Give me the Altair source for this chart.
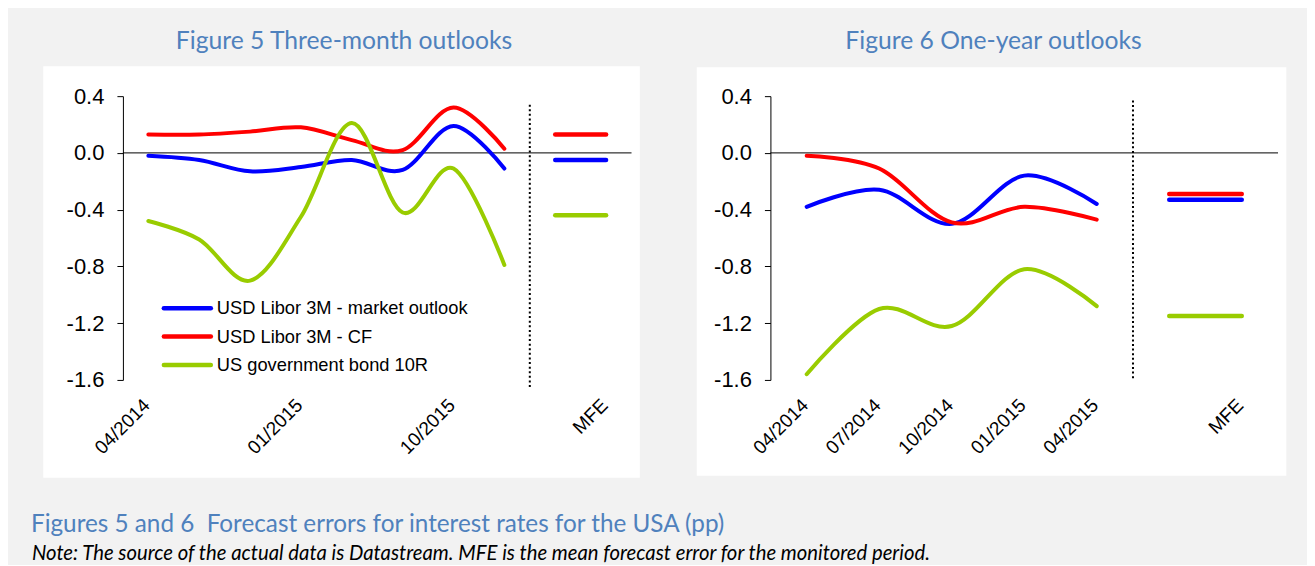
import altair as alt
import pandas as pd

# ---------------- data ----------------
series = ["USD Libor 3M - market outlook", "USD Libor 3M - CF", "US government bond 10R"]
series_colors = ["#0000ff", "#ff0000", "#99cc00"]

# Figure 5: three-month outlooks
left_dates = ["04/2014", "07/2014", "10/2014", "01/2015", "04/2015", "07/2015", "10/2015", "01/2016"]
left_market = [-0.02, -0.05, -0.13, -0.10, -0.05, -0.12, 0.19, -0.11]
left_cf = [0.13, 0.13, 0.15, 0.18, 0.09, 0.02, 0.32, 0.03]
left_bond = [-0.48, -0.61, -0.90, -0.45, 0.21, -0.42, -0.11, -0.79]
left_mfe = [-0.05, 0.13, -0.44]
left_tick_values = [0, 3, 6, 9]

# Figure 6: one-year outlooks
right_dates = ["04/2014", "07/2014", "10/2014", "01/2015", "04/2015"]
right_market = [-0.38, -0.26, -0.50, -0.16, -0.36]
right_cf = [-0.02, -0.11, -0.49, -0.38, -0.47]
right_bond = [-1.56, -1.10, -1.22, -0.82, -1.08]
right_mfe = [-0.33, -0.29, -1.15]
right_tick_values = [0, 1, 2, 3, 4, 6]

y_ticks = [-1.6, -1.2, -0.8, -0.4, 0.0, 0.4]
mfe_label = "MFE"

left_title = "Figure 5 Three-month outlooks"
right_title = "Figure 6 One-year outlooks"
caption = "Figures 5 and 6\u00a0 Forecast errors for interest rates for the USA (pp)"
note = "Note: The source of the actual data is Datastream. MFE is the mean forecast error for the monitored period."

# ---------------- style ----------------
BG = "#f2f2f2"
BLUE_TXT = "#4f81bd"
AX_FONT = "Liberation Sans"
T_FONT = "Lato"
H = 284


def one():
    return pd.DataFrame({"k": [0]})


def build_panel(dates, vals, mfe, tick_values, width, sep_top, sep_bottom,
                title, title_x, box, legend=False, extent=None, texts=None):
    n = len(dates)
    labels = dates + ["", mfe_label]
    lab_js = "[" + ",".join("'%s'" % l for l in labels) + "]"
    xscale = alt.Scale(domain=[-0.5, n + 1.5], nice=False, zero=False)
    yscale = alt.Scale(domain=[-1.6, 0.4], nice=False, zero=False)
    xaxis = alt.Axis(values=tick_values, labelExpr=lab_js + "[datum.value]", zindex=3,
                     domain=False, ticks=False, grid=False, labelAngle=-45, labelAlign="right",
                     labelBaseline="middle", labelPadding=22, labelOffset=-2, labelFont=AX_FONT,
                     labelFontSize=19, labelColor="black", labelOverlap=False, labelFlush=False)
    yaxis = alt.Axis(values=y_ticks, zindex=3, grid=False, domainColor="black", domainWidth=1,
                     tickColor="black", tickSize=6, tickWidth=1, labelFont=AX_FONT, labelFontSize=22,
                     labelColor="black", labelPadding=13,
                     labelExpr="datum.value < -0.001 ? '-' + format(-datum.value, '.1f') : format(abs(datum.value), '.1f')")

    rows = []
    for s, vs in zip(series, vals):
        for i, v in enumerate(vs):
            rows.append({"series": s, "idx": i, "value": v})
    df = pd.DataFrame(rows)
    mdf = pd.DataFrame({"series": series, "value": mfe,
                        "x1": [n] * len(series), "x2": [n + 1] * len(series)})

    layers = []
    if extent is not None:
        x1, x2, y1, y2 = extent
        layers.append(alt.Chart(one()).mark_rect(fill=BG).encode(
            x=alt.value(x1), x2=alt.value(x2), y=alt.value(y1), y2=alt.value(y2)))
    bx1, bx2, by1, by2 = box
    layers.append(alt.Chart(one()).mark_rect(fill="white").encode(
        x=alt.value(bx1), x2=alt.value(bx2), y=alt.value(by1), y2=alt.value(by2)))

    # zero line
    layers.append(alt.Chart(pd.DataFrame({"z": [0.0]})).mark_rule(color="black", strokeWidth=1).encode(
        y=alt.Y("z:Q", scale=yscale, axis=yaxis, title=None)))
    # separator (dotted)
    layers.append(alt.Chart(pd.DataFrame({"sx": [n - 0.5], "sy1": [sep_top], "sy2": [sep_bottom]}))
                  .mark_rule(color="black", strokeWidth=2, strokeDash=[2, 2.6]).encode(
        x=alt.X("sx:Q", scale=xscale, axis=xaxis, title=None),
        y=alt.Y("sy1:Q", scale=yscale, axis=yaxis, title=None),
        y2="sy2:Q"))

    color = alt.Color("series:N", scale=alt.Scale(domain=series, range=series_colors), legend=None)
    for s in series:
        layers.append(alt.Chart(df).transform_filter(alt.datum.series == s)
                      .mark_line(interpolate="cardinal", strokeWidth=4, strokeCap="round", strokeJoin="round")
                      .encode(x=alt.X("idx:Q", scale=xscale, axis=xaxis, title=None),
                              y=alt.Y("value:Q", scale=yscale, axis=yaxis, title=None),
                              color=color))
    layers.append(alt.Chart(mdf).mark_rule(strokeWidth=4.5, strokeCap="round").encode(
        x=alt.X("x1:Q", scale=xscale, axis=xaxis, title=None), x2="x2:Q",
        y=alt.Y("value:Q", scale=yscale, axis=yaxis, title=None),
        color=color))

    # panel title
    layers.append(alt.Chart(one()).mark_text(text=title, font=T_FONT, fontSize=24.7, color=BLUE_TXT,
                                             align="center", baseline="alphabetic").encode(
        x=alt.value(title_x), y=alt.value(-47)))

    if legend:
        for i, (s, c) in enumerate(zip(series, series_colors)):
            yy = 212.3 + 28.35 * i
            layers.append(alt.Chart(one()).mark_rule(color=c, strokeWidth=4.5, strokeCap="round").encode(
                x=alt.value(41), x2=alt.value(88), y=alt.value(yy)))
            layers.append(alt.Chart(one()).mark_text(text=s, font=AX_FONT, fontSize=18.3, color="black",
                                                     align="left", baseline="middle").encode(
                x=alt.value(94), y=alt.value(yy + 1)))
    if texts:
        for (t, x, y, size, style, col) in texts:
            layers.append(alt.Chart(one()).mark_text(text=t, font=T_FONT, fontSize=size, fontStyle=style,
                                                     color=col, align="left", baseline="alphabetic").encode(
                x=alt.value(x), y=alt.value(y)))

    return alt.layer(*layers).properties(width=width, height=H)


left = build_panel(left_dates, [left_market, left_cf, left_bond], left_mfe, left_tick_values,
                   width=509, sep_top=0.34, sep_bottom=-1.65,
                   title=left_title, title_x=221.3, box=(-79.7, 517.3, -30, 382), legend=True,
                   extent=(-114.7, 1184.3, -88, 462),
                   texts=[(caption, -92, 436, 24.3, "normal", BLUE_TXT),
                          (note, -91, 464, 20.3, "italic", "black")])

right = build_panel(right_dates, [right_market, right_cf, right_bond], right_mfe, right_tick_values,
                    width=508, sep_top=0.37, sep_bottom=-1.6,
                    title=right_title, title_x=223.3, box=(-73.7, 516.3, -29, 380))

chart = alt.hconcat(left, right, spacing=139, bounds="flush", padding=0, background=BG).configure_view(
    strokeWidth=0
)

chart.save("out.html", embed_options={"renderer": "svg", "actions": False})
